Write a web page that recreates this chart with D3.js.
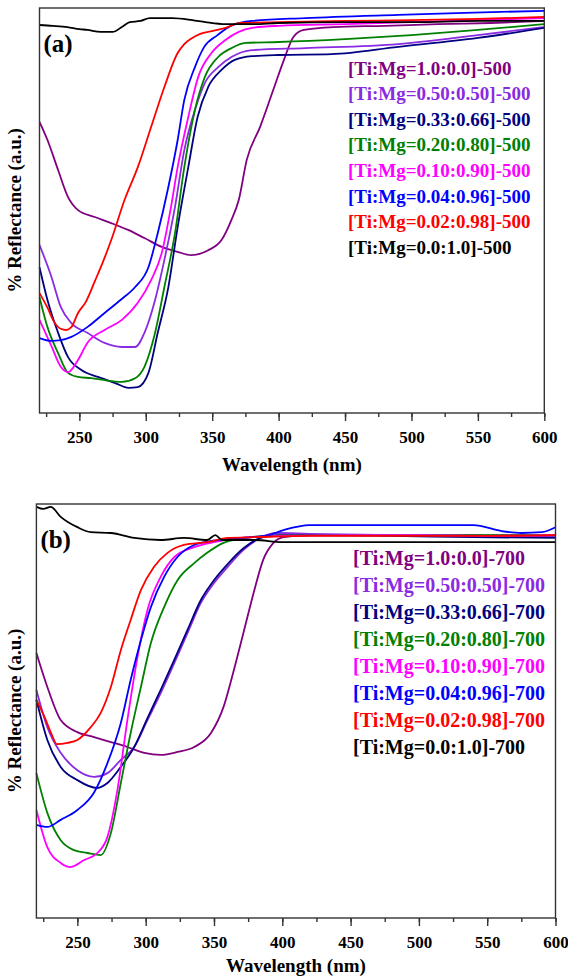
<!DOCTYPE html>
<html>
<head>
<meta charset="utf-8">
<script src="https://cdn.jsdelivr.net/npm/d3@7"></script>
<style>
  body { margin: 0; background: #fff; }
  svg text { font-family: "Liberation Serif", "Times New Roman", serif; font-weight: bold; }
</style>
</head>
<body>
<svg width="568" height="980"></svg>
<script>
var canvas = d3.select("svg");

// ---- data (reflectance in a.u., 0 = bottom of frame, 100 = top) ----
var xTicks = [250, 300, 350, 400, 450, 500, 550, 600];
var ratios = ["1.0:0.0", "0.50:0.50", "0.33:0.66", "0.20:0.80", "0.10:0.90", "0.04:0.96", "0.02:0.98", "0.0:1.0"];
var colors = ["#800080", "#8A2BE2", "#000080", "#008000", "#FF00FF", "#0000FF", "#FF0000", "#000000"];

// panel (a), calcined at 500
var a100 = [[220,71.9],[226,67.4],[234,60.0],[241.5,53.3],[249,50.1],[261.6,48.4],[274,46.9],[286.7,45.2],[299,43.2],[312,41.0],[324,39.8],[334,39.0],[347,40.2],[357,42.7],[364.5,47.7],[370,52.6],[376,62.5],[386,70.6],[396,79.8],[404,87.2],[411,92.8],[419,94.6],[441,95.3],[480,95.6],[520,96.0],[560,96.3],[600,96.8]];
var a050 = [[220,41.5],[229,33.6],[236,26.2],[244,22.2],[256,19.8],[269,17.3],[282,16.3],[292,16.3],[299,19.8],[307,27.9],[314,37.8],[322,50.9],[329,64.9],[337,74.8],[344.5,81.5],[354.5,85.4],[364.5,87.9],[380,89.6],[420,90.1],[490,91.1],[550,93.3],[600,95.3]];
var a033 = [[220,36.0],[226,27.9],[234,19.8],[241.5,13.8],[251.5,10.6],[264,8.9],[277,7.4],[287,6.2],[294,6.4],[302,9.9],[309,19.8],[317,31.1],[324,45.9],[332,60.7],[339,73.1],[347,80.5],[357,84.7],[367,87.2],[380,88.1],[400,88.4],[440,88.6],[490,90.4],[550,92.6],[600,95.1]];
var a020 = [[220,28.6],[226,21.2],[234,14.8],[241.5,9.9],[249,8.9],[259,8.6],[269,8.1],[282,7.7],[292,8.6],[299,11.4],[307,19.8],[314,31.1],[322,44.4],[329,60.7],[337,74.8],[344.5,83.0],[354.5,87.9],[364.5,90.1],[375,91.4],[400,91.6],[450,92.3],[500,93.3],[550,94.6],[600,96.0]];
var a010 = [[220,23.0],[229,16.5],[236,11.4],[241.5,10.1],[249,13.1],[256,17.3],[269,20.5],[282,23.0],[294,27.2],[304,32.8],[312,39.5],[319,50.9],[324,60.7],[332,73.1],[339.5,83.0],[349.5,88.9],[360,92.1],[370,94.1],[380,95.1],[400,95.6],[450,96.0],[500,96.5],[550,97.0],[600,97.5]];
var a004 = [[220,18.5],[229,17.8],[236,18.0],[244,18.8],[256,21.2],[269,24.7],[281,27.9],[292,31.1],[302,36.0],[309,44.4],[317,55.8],[324,67.4],[329,77.3],[337,85.4],[344,90.4],[354,93.3],[364,95.6],[380,96.8],[420,97.5],[490,98.3],[540,98.8],[600,99.3]];
var a002 = [[220,29.6],[226,26.0],[231,22.5],[236,20.8],[240,20.5],[244,21.2],[249,24.7],[255,27.5],[262,32.8],[268,37.5],[274,42.7],[284,52.6],[294,60.7],[304,70.6],[314,80.5],[324,88.9],[329,91.1],[335,92.6],[341,93.6],[350,94.3],[360,95.1],[371,96.3],[400,96.5],[450,96.8],[500,97.0],[550,97.3],[600,97.8]];
var a000 = [[220,95.8],[230,95.6],[241,95.3],[250,94.8],[256,94.6],[266,94.1],[275,94.1],[282,95.3],[288,96.5],[296,96.8],[303,97.5],[320,97.5],[335,97.0],[345,96.5],[360,96.0],[380,96.0],[400,96.3],[450,96.5],[500,96.5],[550,96.8],[600,96.8]];

// panel (b), calcined at 700
var b100 = [[220,64.0],[228,55.8],[237.8,47.8],[250,44.9],[262.2,43.7],[274.5,42.5],[286.6,41.3],[299,39.9],[311,39.4],[323.3,40.1],[335.5,41.3],[347.8,44.7],[357,51.0],[364,59.2],[371.5,68.8],[379,78.5],[386,86.5],[393.5,90.6],[401,92.0],[420,92.5],[480,92.5],[540,92.5],[600,92.3]];
var b050 = [[220,55.1],[228,46.1],[237.8,39.9],[250,35.7],[262.2,34.1],[272,35.0],[281.8,38.2],[291.6,41.3],[301.3,47.8],[311,54.3],[321,61.6],[330.6,68.8],[340.4,76.1],[350,80.9],[360,84.8],[371.6,88.9],[384,91.8],[396,93.0],[420,92.8],[480,92.5],[540,92.3],[600,92.0]];
var b033 = [[220,52.7],[228,43.0],[237.8,36.5],[250,33.3],[264.6,31.4],[272,32.6],[281.8,36.5],[291.6,41.3],[301.3,48.3],[311,55.1],[321,62.4],[330.6,69.6],[340.4,76.8],[350,81.6],[360,85.5],[371.6,89.3],[384,91.8],[396,92.5],[420,92.5],[480,92.3],[540,92.0],[600,91.8]];
var b020 = [[220,35.0],[228,25.4],[237.8,18.8],[247.5,16.4],[257.3,15.7],[267,15.2],[274.5,20.5],[281.8,32.6],[289,44.7],[296.5,55.8],[303.8,66.4],[313.5,75.1],[323.3,81.6],[335.5,85.7],[345,88.2],[357,90.6],[370,91.6],[390,92.3],[450,92.5],[500,92.5],[600,92.5]];
var b010 = [[220,26.1],[228,17.1],[237.8,13.3],[245,12.3],[255,14.0],[264.6,15.7],[272,19.6],[279.3,30.9],[286.6,47.8],[294,63.0],[301.3,74.4],[311,82.4],[321,87.2],[335.5,89.6],[350,90.8],[370,91.8],[400,92.3],[450,92.5],[500,92.5],[550,92.3],[600,92.5]];
var b004 = [[220,22.5],[228,22.0],[237.8,23.7],[250,26.1],[262,30.2],[272,37.4],[281.8,47.1],[289,57.5],[296.5,67.1],[303.8,75.1],[313.5,82.4],[323.3,87.2],[335.5,90.1],[352.6,91.3],[370,91.8],[390,92.5],[401,93.7],[420,94.9],[480,94.9],[540,94.9],[560,93.5],[575,93.0],[590,93.2],[600,94.4]];
var b002 = [[220,52.7],[226,48.5],[231,44.5],[235,42.0],[242.7,42.3],[250,43.0],[259.8,46.1],[267,49.5],[274.5,55.8],[281.8,64.7],[289,72.0],[296.5,79.2],[306,84.8],[316,88.2],[328,90.1],[345,90.8],[360,91.8],[380,92.0],[420,92.3],[500,92.3],[550,92.3],[600,92.5]];
var b000 = [[220,99.3],[225,98.8],[230.5,99.3],[237.8,96.9],[250,94.4],[259.8,93.2],[274.5,93.0],[291.6,91.8],[311,91.3],[328,91.8],[345,91.3],[351,92.5],[356,91.3],[380,91.3],[400,90.8],[450,90.8],[500,90.8],[550,90.8],[600,90.8]];

var seriesA = [a100, a050, a033, a020, a010, a004, a002, a000];
var seriesB = [b100, b050, b033, b020, b010, b004, b002, b000];

var panels = [
    { tag: "(a)", temp: "500", data: seriesA, left: 39.5, right: 544.3, top: 8, bottom: 413, titleGap: 58,
      legendX: 348, legendY: 68, legendStep: 25.6, legendSize: 19 },
    { tag: "(b)", temp: "700", data: seriesB, left: 36.4, right: 555.5, top: 504, bottom: 918, titleGap: 54,
      legendX: 353, legendY: 558, legendStep: 27, legendSize: 20 }
];

panels.forEach(drawPanel);

function drawPanel(p) {

    var xScale = d3.scaleLinear()
        .domain([220, 600])
        .range([p.left, p.right]);

    var yScale = d3.scaleLinear()
        .domain([0, 100])
        .range([p.bottom, p.top]);

    var g = canvas.append("g");

    var line = d3.line()
        .x(d => xScale(d[0]))
        .y(d => yScale(d[1]))
        .curve(d3.curveMonotoneX);

    g.selectAll("path.curve")
        .data(p.data)
        .enter()
        .append("path")
        .attr("class", "curve")
        .attr("d", line)
        .attr("fill", "none")
        .attr("stroke", (d, i) => colors[i])
        .attr("stroke-width", 1.8);

    // frame
    g.append("rect")
        .attr("x", p.left)
        .attr("y", p.top)
        .attr("width", p.right - p.left)
        .attr("height", p.bottom - p.top)
        .attr("fill", "none")
        .attr("stroke", "#333")
        .attr("stroke-width", 1.4);

    // bottom axis: minor ticks every 25, labelled ticks every 50
    var minor = d3.range(225, 601, 25);
    g.append("g")
        .attr("transform", `translate(0,${p.bottom})`)
        .call(d3.axisBottom(xScale).tickValues(minor).tickSize(4).tickFormat(""))
        .call(a => a.select(".domain").remove())
        .selectAll("line").attr("stroke", "#333").attr("stroke-width", 1.4);

    var axis = g.append("g")
        .attr("transform", `translate(0,${p.bottom})`)
        .call(d3.axisBottom(xScale).tickValues(xTicks).tickSize(8).tickPadding(10).tickFormat(d3.format("d")));
    axis.select(".domain").remove();
    axis.selectAll("line").attr("stroke", "#333").attr("stroke-width", 1.4);
    axis.selectAll("text")
        .attr("fill", "#000")
        .style("font-size", "17px")
        .style("font-family", "'Liberation Serif', 'Times New Roman', serif")
        .style("font-weight", "bold");

    g.append("text")
        .attr("x", (p.left + p.right) / 2)
        .attr("y", p.bottom + p.titleGap)
        .attr("text-anchor", "middle")
        .style("font-size", "19px")
        .text("Wavelength (nm)");

    g.append("text")
        .attr("transform", `translate(21,${(p.top + p.bottom) / 2}) rotate(-90)`)
        .attr("text-anchor", "middle")
        .style("font-size", "19px")
        .text("% Reflectance (a.u.)");

    g.append("text")
        .attr("x", p.left + 4)
        .attr("y", p.top + 44)
        .style("font-size", "25px")
        .text(p.tag);

    // legend
    g.selectAll("text.legend")
        .data(ratios)
        .enter()
        .append("text")
        .attr("class", "legend")
        .attr("x", p.legendX)
        .attr("y", (d, i) => p.legendY + i * p.legendStep)
        .attr("dy", "0.35em")
        .attr("fill", (d, i) => colors[i])
        .style("font-size", p.legendSize + "px")
        .text(d => "[Ti:Mg=" + d + "]-" + p.temp);
}
</script>
</body>
</html>
